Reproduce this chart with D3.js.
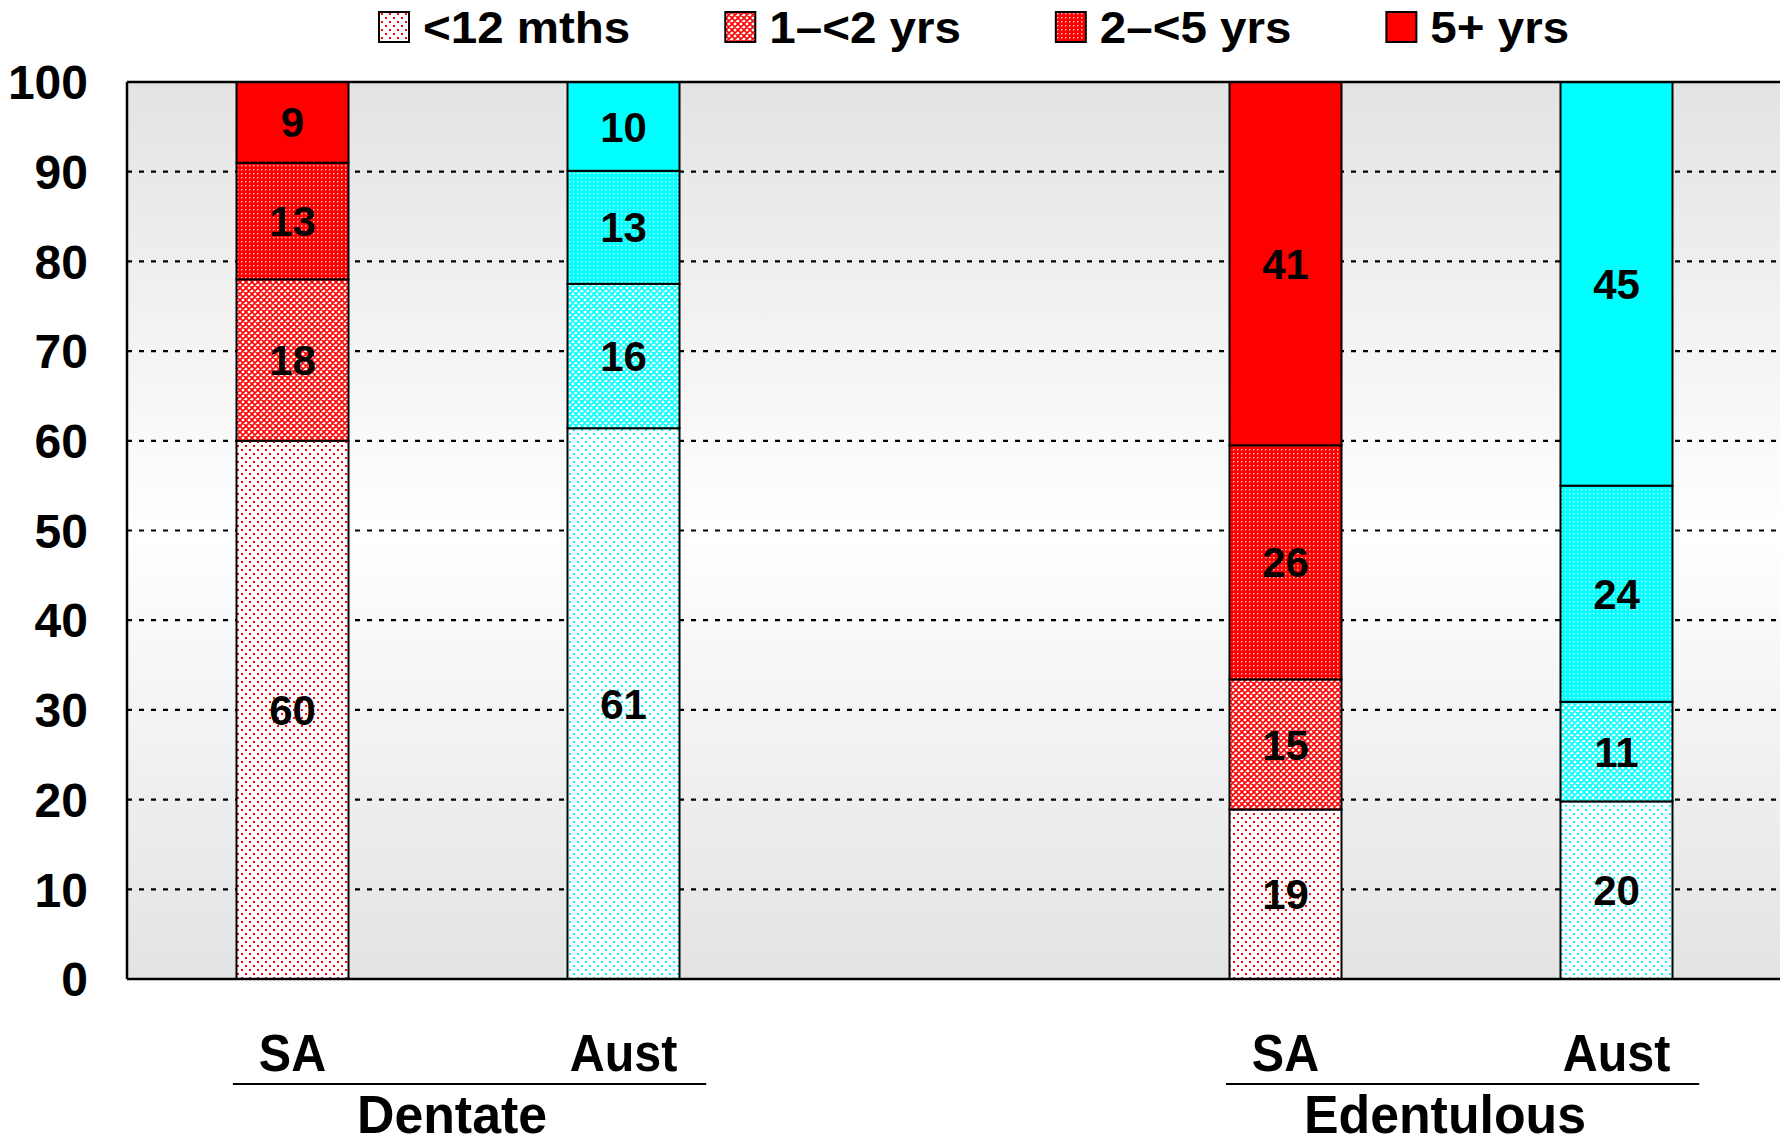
<!DOCTYPE html>
<html><head><meta charset="utf-8">
<script src="https://cdn.jsdelivr.net/npm/d3@7"></script>
<style>
body{margin:0;background:#fff}
text{font-family:"Liberation Sans",Arial,sans-serif;font-weight:bold;fill:#000}
</style>
</head><body>
<svg id="c" width="1780" height="1145"></svg>
<script>
// ---- data ----
const groups = ["Dentate", "Edentulous"];
const regions = ["SA", "Aust"];
const seriesNames = ["<12 mths", "1\u2013<2 yrs", "2\u2013<5 yrs", "5+ yrs"];
// order: Dentate SA, Dentate Aust, Edentulous SA, Edentulous Aust
const lt12mths = [60, 61.4, 18.9, 19.8];
const yrs1to2 = [18, 16.1, 14.5, 11.1];
const yrs2to5 = [13, 12.6, 26.1, 24.1];
const yrs5plus = [9, 9.9, 40.5, 45];
const yTicks = [0, 10, 20, 30, 40, 50, 60, 70, 80, 90, 100];

const seriesValues = [lt12mths, yrs1to2, yrs2to5, yrs5plus];
const bars = [];
groups.forEach((g, gi) => regions.forEach((r, ri) => {
  const i = gi * 2 + ri;
  bars.push({key: g + "|" + r, group: g, region: r, vals: seriesValues.map(s => s[i])});
}));
const xDomain = ["Dentate|SA", "Dentate|Aust", "_gap", "Edentulous|SA", "Edentulous|Aust"];

const svg = d3.select("#c");
const plot = {left: 127, right: 1782, top: 82, bottom: 979};

const x = d3.scaleBand().domain(xDomain).range([plot.left, plot.right]).paddingInner(0).paddingOuter(0);
const y = d3.scaleLinear().domain([0, 100]).range([plot.bottom, plot.top]);
const barW = 112;

// ---- defs: gradient + patterns ----
const defs = svg.append("defs");
const grad = defs.append("linearGradient").attr("id", "bg").attr("x1", 0).attr("y1", 0).attr("x2", 0).attr("y2", 1);
grad.append("stop").attr("offset", "0").attr("stop-color", "#e3e3e3");
grad.append("stop").attr("offset", "0.5").attr("stop-color", "#ffffff");
grad.append("stop").attr("offset", "1").attr("stop-color", "#e3e3e3");

function makePatterns(name, col) {
  let p = defs.append("pattern").attr("id", name + "0").attr("patternUnits", "userSpaceOnUse").attr("width", 8).attr("height", 8);
  p.append("rect").attr("width", 8).attr("height", 8).attr("fill", "#fff");
  p.append("rect").attr("x", 1).attr("y", 1).attr("width", 2).attr("height", 2).attr("fill", col);
  p.append("rect").attr("x", 5).attr("y", 5).attr("width", 2).attr("height", 2).attr("fill", col);
  p = defs.append("pattern").attr("id", name + "1").attr("patternUnits", "userSpaceOnUse").attr("width", 6).attr("height", 6);
  p.append("rect").attr("width", 6).attr("height", 6).attr("fill", "#fff");
  p.append("path").attr("d", "M0,0L6,6M6,0L0,6M-1,5L1,7M5,-1L7,1M-1,1L1,-1M5,7L7,5").attr("stroke", col).attr("stroke-width", 1.6);
  p = defs.append("pattern").attr("id", name + "2").attr("patternUnits", "userSpaceOnUse").attr("width", 4).attr("height", 4);
  p.append("rect").attr("width", 4).attr("height", 4).attr("fill", col);
  p.append("rect").attr("x", 1).attr("y", 1).attr("width", 1.4).attr("height", 1.4).attr("fill", "#fff").attr("opacity", 0.85);
}
makePatterns("red", "#ff0000");
makePatterns("cyan", "#00ffff");
const fillFor = (region, si) => {
  const col = region === "SA" ? "#ff0000" : "#00ffff";
  const nm = region === "SA" ? "red" : "cyan";
  return si === 3 ? col : `url(#${nm}${si})`;
};

// ---- background ----
svg.append("rect").attr("x", plot.left).attr("y", plot.top)
  .attr("width", plot.right - plot.left).attr("height", plot.bottom - plot.top)
  .attr("fill", "url(#bg)");

// ---- gridlines ----
svg.append("g").selectAll("line").data(yTicks.filter(t => t > 0)).join("line")
  .attr("x1", plot.left).attr("x2", plot.right)
  .attr("y1", d => y(d)).attr("y2", d => y(d))
  .attr("stroke", "#000").attr("stroke-width", 2.2).attr("stroke-dasharray", "5,7");

// ---- bars ----
const barG = svg.append("g");
bars.forEach(b => {
  let cum = 0;
  const x0 = x(b.key) + (x.bandwidth() - barW) / 2;
  b.vals.forEach((v, si) => {
    const y0 = cum, y1 = cum + v;
    cum = y1;
    barG.append("rect").attr("x", x0).attr("y", y(y1)).attr("width", barW).attr("height", y(y0) - y(y1))
      .attr("fill", fillFor(b.region, si)).attr("stroke", "#000").attr("stroke-width", 2);
    barG.append("text").attr("x", x0 + barW / 2).attr("y", (y(y0) + y(y1)) / 2).attr("dy", "0.36em")
      .attr("text-anchor", "middle").attr("font-size", 42).text(Math.round(v));
  });
});

// ---- axes lines ----
svg.append("line").attr("x1", plot.left).attr("x2", plot.left).attr("y1", plot.top).attr("y2", plot.bottom).attr("stroke", "#000").attr("stroke-width", 2.5);
svg.append("line").attr("x1", plot.left).attr("x2", plot.right).attr("y1", plot.bottom).attr("y2", plot.bottom).attr("stroke", "#000").attr("stroke-width", 2.5);
svg.append("line").attr("x1", plot.left).attr("x2", plot.right).attr("y1", plot.top).attr("y2", plot.top).attr("stroke", "#000").attr("stroke-width", 2.5);

// ---- y tick labels ----
svg.append("g").selectAll("text").data(yTicks).join("text")
  .attr("x", 88).attr("y", d => y(d))
  .attr("dy", "0.36em").attr("text-anchor", "end").attr("font-size", 48).text(d => d);

// ---- x labels ----
bars.forEach(b => {
  svg.append("text").attr("transform", `translate(${x(b.key) + x.bandwidth() / 2},1071) scale(0.95,1)`)
    .attr("text-anchor", "middle").attr("font-size", 51).text(b.region);
});
groups.forEach(g => {
  const c1 = x(g + "|SA") + x.bandwidth() / 2, c2 = x(g + "|Aust") + x.bandwidth() / 2;
  const step = x.step();
  svg.append("line").attr("x1", c1 - 0.18 * step).attr("x2", c2 + 0.25 * step)
    .attr("y1", 1084).attr("y2", 1084).attr("stroke", "#000").attr("stroke-width", 2);
  svg.append("text").attr("transform", `translate(${(c1 + c2) / 2 - 6},1133) scale(0.96,1)`)
    .attr("text-anchor", "middle").attr("font-size", 54).text(g);
});

// ---- legend ----
let lx = 379;
seriesNames.forEach((s, si) => {
  svg.append("rect").attr("x", lx).attr("y", 12).attr("width", 30).attr("height", 30)
    .attr("fill", fillFor("SA", si)).attr("stroke", "#000").attr("stroke-width", 2);
  const t = svg.append("text").attr("transform", `translate(${lx + 44},43) scale(1.08,1)`)
    .attr("font-size", 44).text(s);
  lx = lx + 44 + t.node().getComputedTextLength() * 1.08 + 95;
});
</script>
</body></html>
